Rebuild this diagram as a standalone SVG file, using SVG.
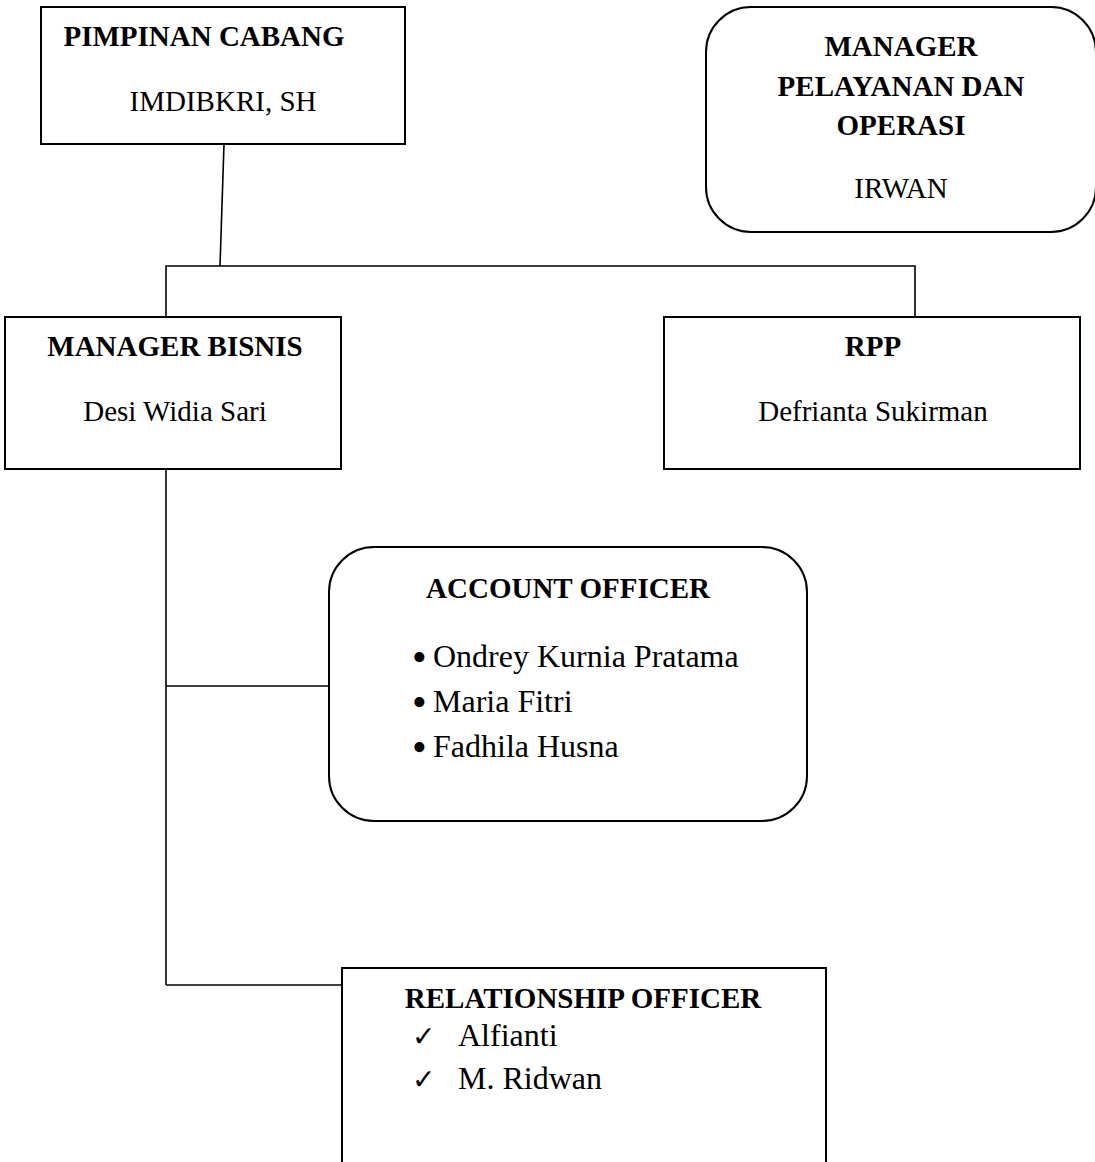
<svg xmlns="http://www.w3.org/2000/svg" width="1095" height="1162" viewBox="0 0 1095 1162">
<style>
.box{fill:#fff;stroke:#000;stroke-width:2}
.con{fill:none;stroke:#000;stroke-width:1.6}
.t{font-family:"Liberation Serif","Times New Roman",serif;fill:#000}
.b{font-weight:bold;font-size:29px}
.r{font-size:29px}
.l{font-size:32px}
.bu{font-family:"Liberation Serif","Times New Roman",serif;font-size:42px;fill:#000}
.ck{font-family:"DejaVu Sans",sans-serif;font-size:28px;font-weight:bold;fill:#000}
</style>
<rect width="1095" height="1162" fill="#fff"/>
<g id="connectors">
<line class="con" x1="224" y1="144" x2="220" y2="266"/>
<polyline class="con" points="166,317 166,266 915,266 915,317"/>
<line class="con" x1="166" y1="469" x2="166" y2="985"/>
<line class="con" x1="166" y1="686" x2="329" y2="686"/>
<line class="con" x1="166" y1="985" x2="342" y2="985"/>
</g>
<g id="pimpinan">
<rect class="box" x="41" y="7" width="364" height="137"/>
<text class="t b" x="204" y="46" text-anchor="middle">PIMPINAN CABANG</text>
<text class="t r" x="223" y="111" text-anchor="middle">IMDIBKRI, SH</text>
</g>
<g id="manager-pelayanan">
<rect class="box" x="706" y="7" width="390" height="225" rx="45" ry="45"/>
<text class="t b" x="901" y="56" text-anchor="middle">MANAGER</text>
<text class="t b" x="901" y="96" text-anchor="middle">PELAYANAN DAN</text>
<text class="t b" x="901" y="135" text-anchor="middle">OPERASI</text>
<text class="t r" x="901" y="198" text-anchor="middle">IRWAN</text>
</g>
<g id="manager-bisnis">
<rect class="box" x="5" y="317" width="336" height="152"/>
<text class="t b" x="175" y="356" text-anchor="middle">MANAGER BISNIS</text>
<text class="t r" x="175" y="421" text-anchor="middle">Desi Widia Sari</text>
</g>
<g id="rpp">
<rect class="box" x="664" y="317" width="416" height="152"/>
<text class="t b" x="873" y="356" text-anchor="middle">RPP</text>
<text class="t r" x="873" y="421" text-anchor="middle">Defrianta Sukirman</text>
</g>
<g id="account-officer">
<rect class="box" x="329" y="547" width="478" height="274" rx="45" ry="45"/>
<text class="t b" x="568" y="598" text-anchor="middle">ACCOUNT OFFICER</text>
<text class="bu" x="412" y="671">•</text>
<text class="t l" x="433" y="667">Ondrey Kurnia Pratama</text>
<text class="bu" x="412" y="716">•</text>
<text class="t l" x="433" y="712">Maria Fitri</text>
<text class="bu" x="412" y="761">•</text>
<text class="t l" x="433" y="757">Fadhila Husna</text>
</g>
<g id="relationship-officer">
<rect class="box" x="342" y="968" width="484" height="220"/>
<text class="t b" x="583" y="1008" text-anchor="middle">RELATIONSHIP OFFICER</text>
<text class="ck" x="412" y="1046">✓</text>
<text class="t l" x="458" y="1046">Alfianti</text>
<text class="ck" x="412" y="1089">✓</text>
<text class="t l" x="458" y="1089">M. Ridwan</text>
</g>
</svg>
